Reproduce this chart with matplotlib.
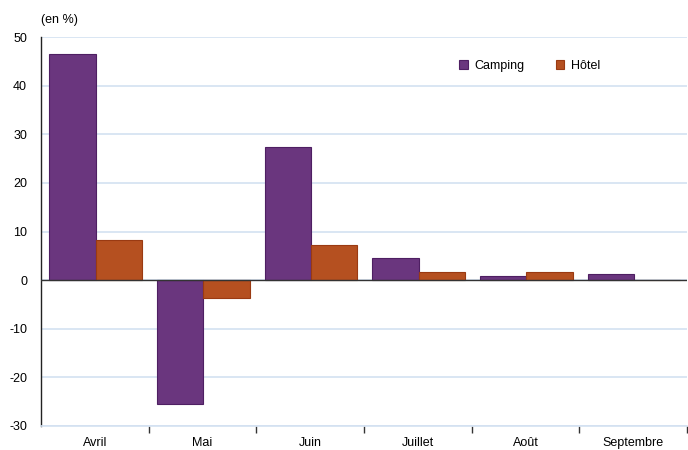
import numpy as np
import matplotlib.pyplot as plt

mois = ["Avril", "Mai", "Juin", "Juillet", "Août", "Septembre"]
camping = [46.5, -25.5, 27.4, 4.5, 0.8, 1.2]
hotel = [8.2, -3.7, 7.2, 1.6, 1.6, 0.0]
yticks = [-30, -20, -10, 0, 10, 20, 30, 40, 50]

plt.rcParams['font.family'] = ['Liberation Sans', 'DejaVu Sans']

fig = plt.figure(figsize=(6.88, 4.5), dpi=100)
ax = fig.add_axes([41 / 688, 24 / 450, 646 / 688, 389 / 450])

x = np.arange(len(mois))
w = 0.43
ax.bar(x - w / 2 + 0.007, camping, w, color="#6a367e", edgecolor="#4e1f62",
       linewidth=0.8, label="Camping", zorder=3)
ax.bar(x + w / 2 + 0.007, hotel, w, color="#b55020", edgecolor="#9a3a12",
       linewidth=0.8, label="Hôtel", zorder=3)

ax.set_xlim(-0.5, len(mois) - 0.5)
ax.set_ylim(-30, 50)
ax.set_yticks(yticks)
ax.set_yticklabels([str(v) for v in yticks])
ax.grid(axis="y", color="#d3e1f1", linewidth=1.2, zorder=0)
ax.axhline(0, color="#333333", linewidth=1.0, zorder=4)

for s in ["top", "right"]:
    ax.spines[s].set_visible(False)
ax.spines["bottom"].set_color("#d3e1f1")
ax.spines["bottom"].set_linewidth(1.2)
ax.spines["left"].set_color("#222222")
ax.spines["left"].set_linewidth(1.0)

ax.set_xticks(x)
ax.set_xticklabels(mois)
ax.set_xticks(np.arange(0.5, len(mois), 1), minor=True)
ax.tick_params(axis="x", which="major", length=0, labelsize=9, pad=8)
ax.tick_params(axis="x", which="minor", length=5, width=1, color="#333333")
ax.tick_params(axis="y", length=0, labelsize=9, pad=10)

fig.text(41 / 688, 1 - 20 / 450, "(en %)", fontsize=9, ha="left", va="center")

ax.legend(loc="upper left", bbox_to_anchor=(0.63, 0.97), ncol=2, frameon=False,
          fontsize=9, handlelength=0.7, handleheight=0.7, columnspacing=2.5,
          handletextpad=0.5)

fig.savefig("out.png", dpi=100)
